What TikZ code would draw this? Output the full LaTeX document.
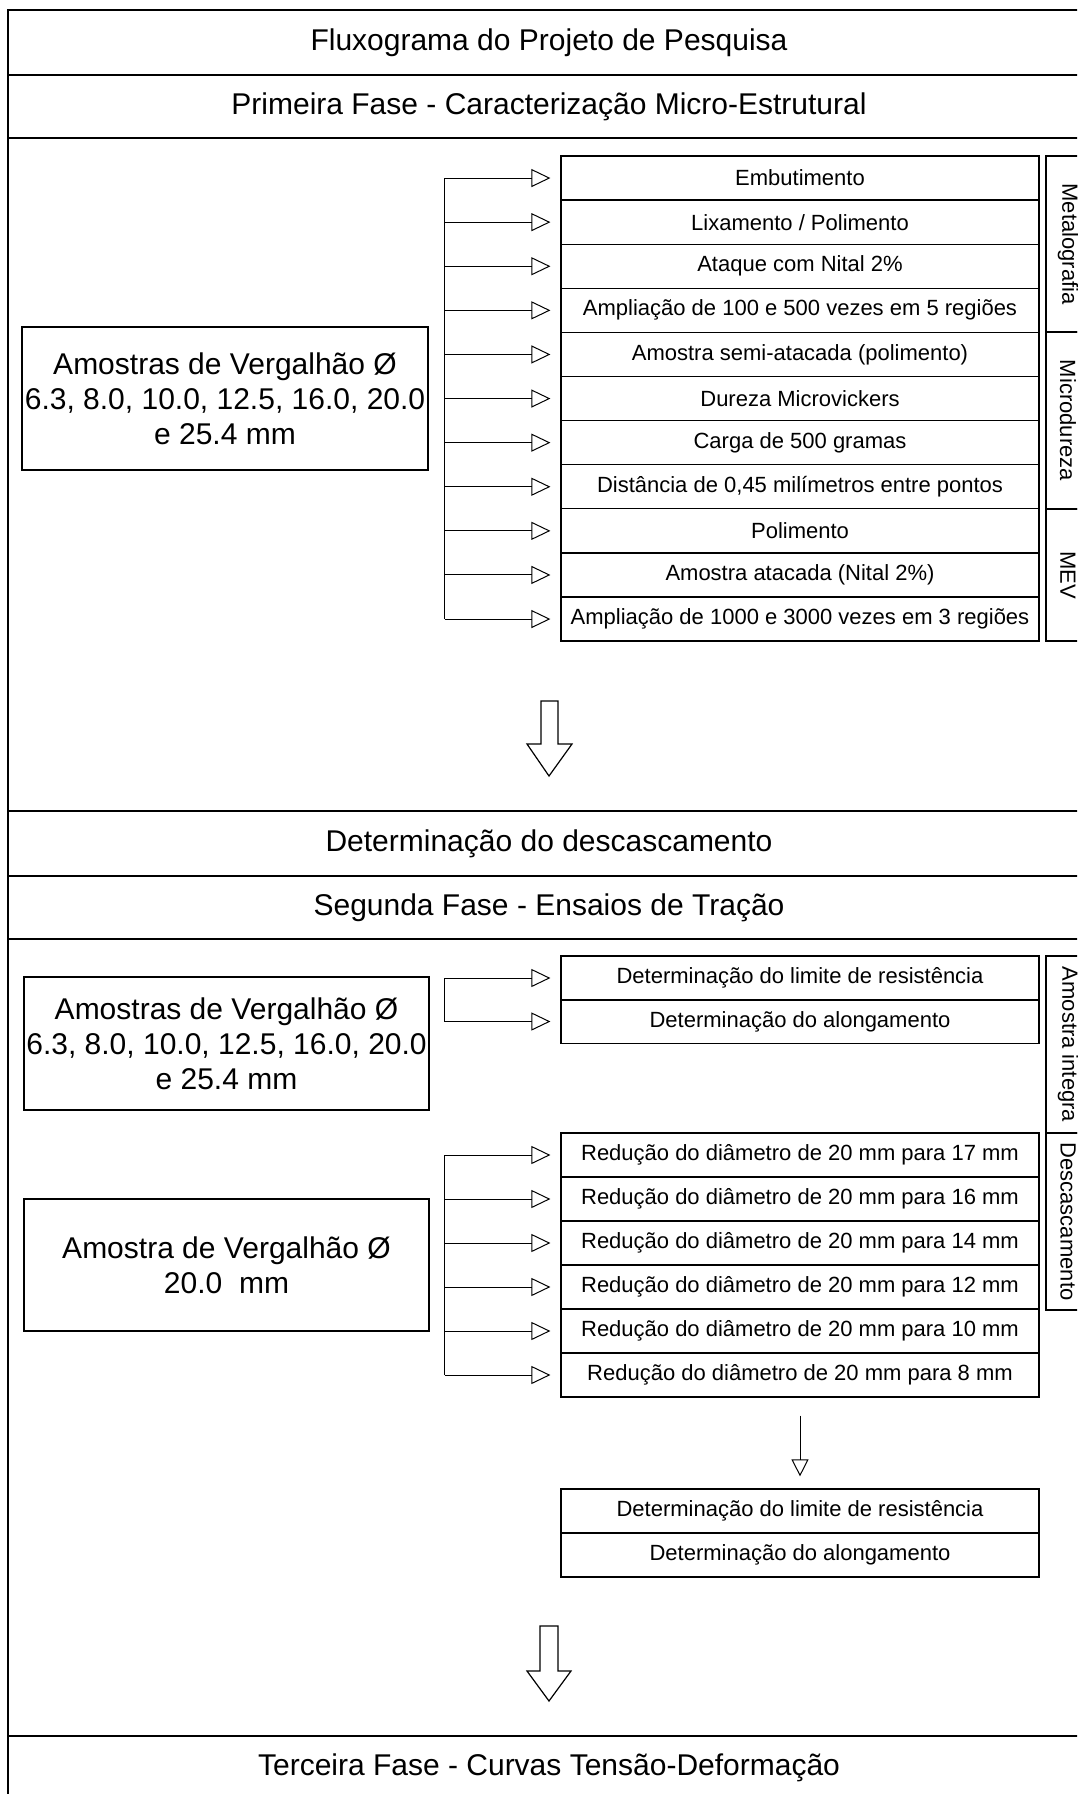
\documentclass[tikz,border=0pt]{standalone}
\usepackage{fontspec}
\setmainfont{Liberation Sans}
\usetikzlibrary{arrows.meta}
\begin{document}
\begin{tikzpicture}[x=0.5pt,y=-0.5pt,
  frame/.style={draw=black,line width=0.8pt},
  box/.style={draw=black,line width=0.6pt,minimum width=239pt,minimum height=22pt,inner sep=0pt,font=\fontsize{11}{13}\selectfont},
  side/.style={draw=black,line width=0.6pt,rotate=-90,minimum height=22pt,inner sep=0pt,font=\fontsize{11}{13}\selectfont},
  big/.style={draw=black,line width=0.6pt,align=center,inner sep=0pt,font=\fontsize{15}{17.5}\selectfont},
  title/.style={font=\fontsize{15}{18}\selectfont,inner sep=0pt},
  arr/.style={-{Triangle[open,length=9.5pt,width=9pt]},line width=0.5pt,shorten >=5pt},
  arrv/.style={-{Triangle[open,length=8.5pt,width=8.5pt]},line width=0.5pt,shorten <=9pt,shorten >=6pt},
  link/.style={line width=0.5pt},
  blockarrow/.style={draw=black,line width=0.6pt,fill=white}]
\useasboundingbox (0,0) rectangle (1077,1794);
\clip (0,0) rectangle (1077,1794);

% outer frame and row lines
\draw[frame] (8,10) rectangle (1090,1830);
\foreach \yy in {75,138,811,876,939,1736} \draw[frame] (8,\yy) -- (1090,\yy);

% titles
\node[title] (t0) at (549,42.5) {Fluxograma do Projeto de Pesquisa};
\node[title] (t1) at (549,106.5) {Primeira Fase - Caracterização Micro-Estrutural};
\node[title] (t2) at (549,843.5) {Determinação do descascamento};
\node[title] (t3) at (549,907.5) {Segunda Fase - Ensaios de Tração};
\node[title] (t4) at (549,1768) {Terceira Fase - Curvas Tensão-Deformação};

% phase 1
\node[big,minimum width=203pt,minimum height=71.5pt] (L1) at (225,398.5) {Amostras de Vergalhão Ø\\6.3, 8.0, 10.0, 12.5, 16.0, 20.0\\e 25.4 mm};
\node[box] (a1) at (800,178.05) {Embutimento};
\node[box] (a2) at (800,222.15) {Lixamento / Polimento};
\node[box] (a3) at (800,266.25) {Ataque com Nital 2\%};
\node[box] (a4) at (800,310.35) {Ampliação de 100 e 500 vezes em 5 regiões};
\node[box] (a5) at (800,354.45) {Amostra semi-atacada (polimento)};
\node[box] (a6) at (800,398.55) {Dureza Microvickers};
\node[box] (a7) at (800,442.65) {Carga de 500 gramas};
\node[box] (a8) at (800,486.75) {Distância de 0,45 milímetros entre pontos};
\node[box] (a9) at (800,530.85) {Polimento};
\node[box] (a10) at (800,574.95) {Amostra atacada (Nital 2\%)};
\node[box] (a11) at (800,619.05) {Ampliação de 1000 e 3000 vezes em 3 regiões};

\node[side,minimum width=88pt] (s1) at (1068,244) {Metalografia};
\node[side,minimum width=88.5pt] (s2) at (1068,420.5) {Microdureza};
\node[side,minimum width=66pt] (s3) at (1068,575) {MEV};

\coordinate (b1) at (444.5,0);
\draw[link] (b1 |- a1.west) -- (b1 |- a11.west);
\foreach \n in {a1,a2,a3,a4,a5,a6,a7,a8,a9,a10,a11}
  \draw[arr] (b1 |- \n.west) -- (\n.west);

% block arrow 1
\draw[blockarrow] (541,701) -- (558,701) -- (558,744) -- (572,744) -- (549,776) -- (527,744) -- (541,744) -- cycle;

% phase 2
\node[big,minimum width=202.5pt,minimum height=66.5pt] (L2) at (226.5,1043.5) {Amostras de Vergalhão Ø\\6.3, 8.0, 10.0, 12.5, 16.0, 20.0\\e 25.4 mm};
\node[big,minimum width=202.5pt,minimum height=66pt] (L3) at (226.5,1265) {Amostra de Vergalhão Ø\\20.0~~mm};

\node[box] (c1) at (800,978) {Determinação do limite de resistência};
\node[box] (c2) at (800,1021.5) {Determinação do alongamento};

\node[box] (d1) at (800,1155) {Redução do diâmetro de 20 mm para 17 mm};
\node[box] (d2) at (800,1199) {Redução do diâmetro de 20 mm para 16 mm};
\node[box] (d3) at (800,1243) {Redução do diâmetro de 20 mm para 14 mm};
\node[box] (d4) at (800,1287) {Redução do diâmetro de 20 mm para 12 mm};
\node[box] (d5) at (800,1331) {Redução do diâmetro de 20 mm para 10 mm};
\node[box] (d6) at (800,1375) {Redução do diâmetro de 20 mm para 8 mm};

\node[side,minimum width=88.5pt] (s4) at (1068,1044.5) {Amostra integra};
\node[side,minimum width=88.5pt] (s5) at (1068,1221.5) {Descascamento};

\coordinate (b2) at (444.5,0);
\draw[link] (b2 |- c1.west) -- (b2 |- c2.west);
\foreach \n in {c1,c2}
  \draw[arr] (b2 |- \n.west) -- (\n.west);

\coordinate (b3) at (444.5,0);
\draw[link] (b3 |- d1.west) -- (b3 |- d6.west);
\foreach \n in {d1,d2,d3,d4,d5,d6}
  \draw[arr] (b3 |- \n.west) -- (\n.west);

\node[box] (e1) at (800,1511) {Determinação do limite de resistência};
\node[box] (e2) at (800,1555) {Determinação do alongamento};
\draw[arrv] (d6.south) -- (e1.north);

% block arrow 2
\draw[blockarrow] (540,1626) -- (558,1626) -- (558,1671) -- (571,1671) -- (549,1701) -- (527,1671) -- (540,1671) -- cycle;
\end{tikzpicture}
\end{document}
